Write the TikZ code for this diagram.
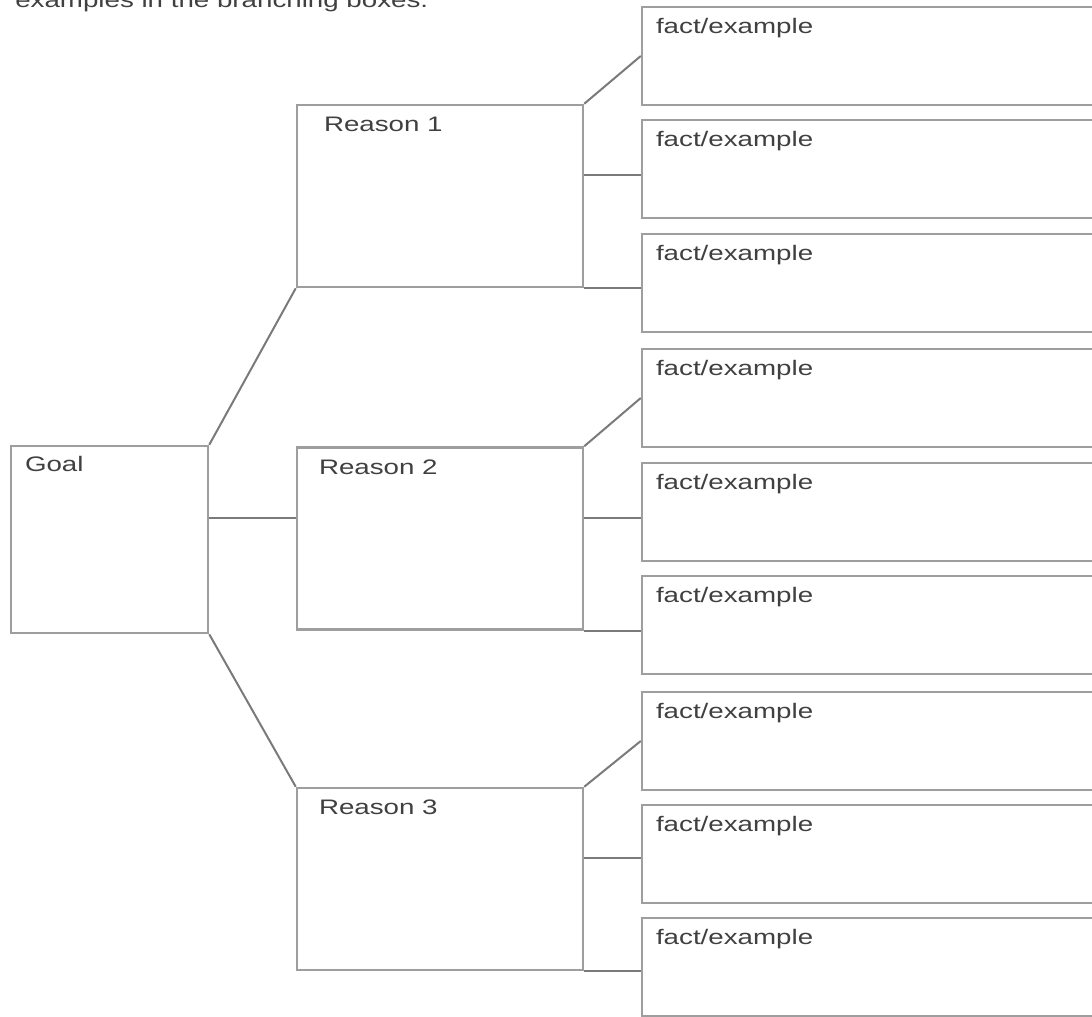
\documentclass[tikz,border=0pt]{standalone}
\usepackage{fontspec}
\setmainfont{Liberation Sans}
\begin{document}
\begin{tikzpicture}[x=1pt, y=-1pt,
  box/.style={draw=black!38, line width=2.5pt, fill=white, inner sep=0pt},
  goalbox/.style={box, minimum width=197pt, minimum height=187pt},
  reasonbox/.style={box, minimum width=286pt, minimum height=182pt},
  factbox/.style={box, minimum width=480pt, minimum height=98pt},
  boxlabel/.style={anchor=base west, inner sep=0pt, xscale=1.32, text=black!75, font=\fontsize{21}{25}\selectfont},
  link/.style={draw=black!52, line width=2pt}]
 \useasboundingbox (0,0) rectangle (1092,1017);
 \clip (0,0) rectangle (1092,1017);

 \node[boxlabel] (intro) at (15,7) {examples in the branching boxes.};

 % goal and reasons
 \node[goalbox] (goal) at (109.5,539.5) {};
 \node[reasonbox] (r1) at (440,196) {};
 \node[reasonbox] (r2) at (440,538.5) {};
 \node[reasonbox] (r3) at (440,879) {};

 % facts
 \node[factbox] (f1) at (882,56) {};
 \node[factbox] (f2) at (882,169) {};
 \node[factbox] (f3) at (882,283) {};
 \node[factbox] (f4) at (882,398) {};
 \node[factbox] (f5) at (882,512) {};
 \node[factbox] (f6) at (882,625) {};
 \node[factbox] (f7) at (882,741) {};
 \node[factbox] (f8) at (882,854) {};
 \node[factbox] (f9) at (882,967) {};

 % labels
 \node[boxlabel] (goal-t) at ([shift={(15pt,-27pt)}]goal.north west) {Goal};
 \node[boxlabel] (r1-t) at ([shift={(28pt,-28pt)}]r1.north west) {Reason 1};
 \node[boxlabel] (r2-t) at ([shift={(23pt,-28pt)}]r2.north west) {Reason 2};
 \node[boxlabel] (r3-t) at ([shift={(23pt,-28pt)}]r3.north west) {Reason 3};
 \node[boxlabel] (f1-t) at ([shift={(15pt,-28pt)}]f1.north west) {fact/example};
 \node[boxlabel] (f2-t) at ([shift={(15pt,-28pt)}]f2.north west) {fact/example};
 \node[boxlabel] (f3-t) at ([shift={(15pt,-28pt)}]f3.north west) {fact/example};
 \node[boxlabel] (f4-t) at ([shift={(15pt,-28pt)}]f4.north west) {fact/example};
 \node[boxlabel] (f5-t) at ([shift={(15pt,-28pt)}]f5.north west) {fact/example};
 \node[boxlabel] (f6-t) at ([shift={(15pt,-28pt)}]f6.north west) {fact/example};
 \node[boxlabel] (f7-t) at ([shift={(15pt,-28pt)}]f7.north west) {fact/example};
 \node[boxlabel] (f8-t) at ([shift={(15pt,-28pt)}]f8.north west) {fact/example};
 \node[boxlabel] (f9-t) at ([shift={(15pt,-28pt)}]f9.north west) {fact/example};

 % goal to reasons
 \draw[link] (goal.north east) -- (r1.south west);
 \draw[link] ([yshift=22pt]goal.east) -- ([yshift=22pt]goal.east -| r2.west);
 \draw[link] (goal.south east) -- (r3.north west);

 % reasons to facts
 \draw[link] (r1.north east) -- (f1.west);
 \draw[link] ([yshift=21pt]r1.east) -- ([yshift=21pt]r1.east -| f2.west);
 \draw[link] (r1.south east) -- (r1.south east -| f3.west);
 \draw[link] (r2.north east) -- (f4.west);
 \draw[link] ([yshift=21pt]r2.east) -- ([yshift=21pt]r2.east -| f5.west);
 \draw[link] (r2.south east) -- (r2.south east -| f6.west);
 \draw[link] (r3.north east) -- (f7.west);
 \draw[link] ([yshift=21pt]r3.east) -- ([yshift=21pt]r3.east -| f8.west);
 \draw[link] (r3.south east) -- (r3.south east -| f9.west);
\end{tikzpicture}
\end{document}
